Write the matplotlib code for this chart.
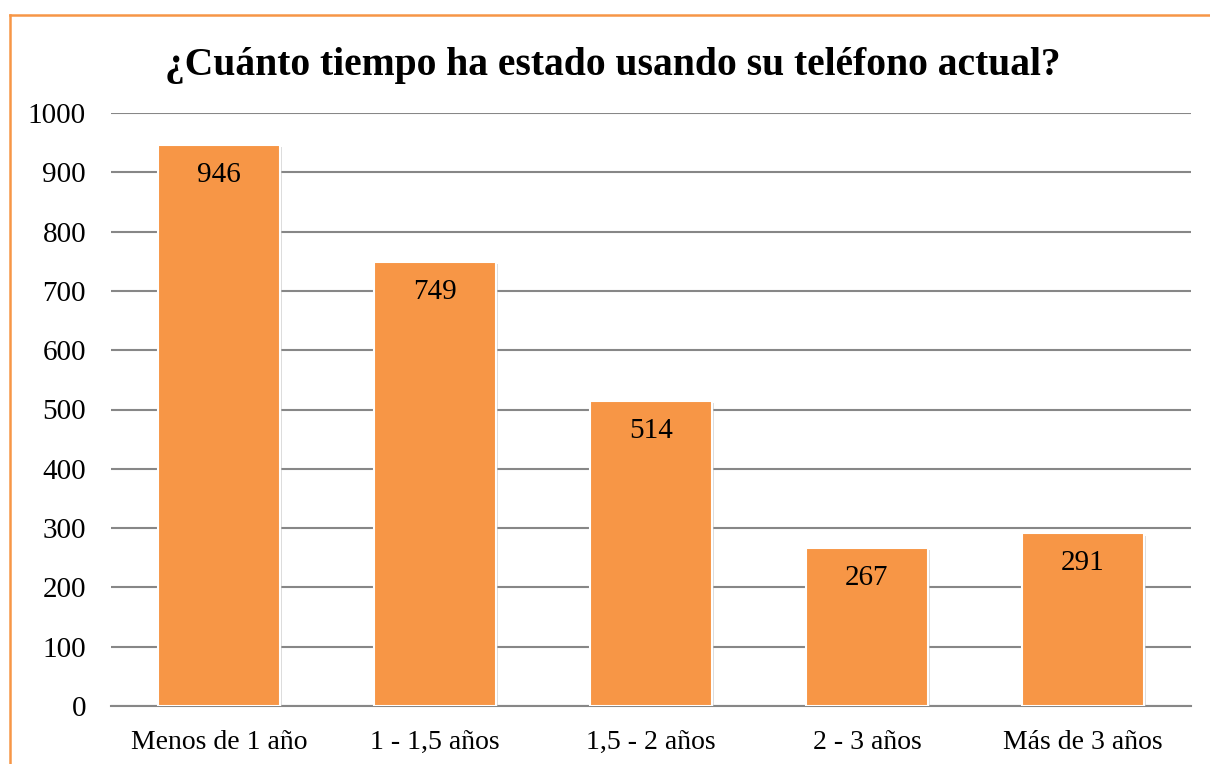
import matplotlib
matplotlib.use("Agg")
import matplotlib.pyplot as plt
from matplotlib.lines import Line2D
import matplotlib.patheffects as pe

categories = ["Menos de 1 año", "1 - 1,5 años", "1,5 - 2 años", "2 - 3 años", "Más de 3 años"]
values = [946, 749, 514, 267, 291]
yticks = [0, 100, 200, 300, 400, 500, 600, 700, 800, 900, 1000]
title = "¿Cuánto tiempo ha estado usando su teléfono actual?"

W, H = 1210, 764
fig = plt.figure(figsize=(W / 100, H / 100), dpi=100)
plt.rcParams['font.family'] = ['Liberation Serif', 'DejaVu Serif']

ax = fig.add_axes([111 / W, 1 - 706 / H, (1191 - 111) / W, (706 - 113) / H])
orange = "#F79646"
grid_c = "#878787"

x = list(range(len(categories)))
bars = ax.bar(x, values, width=0.565, color=orange, edgecolor="white", linewidth=1.5, zorder=3)
for b in bars:
    b.set_path_effects([pe.SimplePatchShadow(offset=(1.5, -1.5), shadow_rgbFace="#BBBBBB", alpha=0.5), pe.Normal()])

for xi, v in zip(x, values):
    ax.annotate(str(v), (xi, v), xytext=(0, -21.5), textcoords="offset points",
                ha="center", va="center", fontsize=21, color="black", zorder=4)

ax.set_xlim(-0.5, len(categories) - 0.5)
ax.set_ylim(0, 1000)
ax.set_yticks(yticks)
ax.set_yticklabels([str(t) for t in yticks], fontsize=21)
ax.set_xticks(x)
ax.set_xticklabels(categories, fontsize=20)
ax.tick_params(axis="y", length=0, pad=18)
ax.tick_params(axis="x", length=0, pad=17)
ax.yaxis.grid(True, color=grid_c, linewidth=1.5, zorder=0)
for s in ["top", "right", "left"]:
    ax.spines[s].set_visible(False)
ax.spines["bottom"].set_color(grid_c)
ax.spines["bottom"].set_linewidth(1.5)
ax.spines["bottom"].set_zorder(2)

fig.text(0.5 * (165 + 1060) / W, 1 - 65 / H, title, ha="center", va="center",
         fontsize=28.5, fontweight="bold")

# orange frame (top and left visible)
fig.add_artist(Line2D([10 / W, 1.0], [1 - 15 / H, 1 - 15 / H], transform=fig.transFigure, color=orange, linewidth=1.8))
fig.add_artist(Line2D([10 / W, 10 / W], [1 - 15 / H, 0.0], transform=fig.transFigure, color=orange, linewidth=1.8))

fig.savefig("out.png", dpi=100)
